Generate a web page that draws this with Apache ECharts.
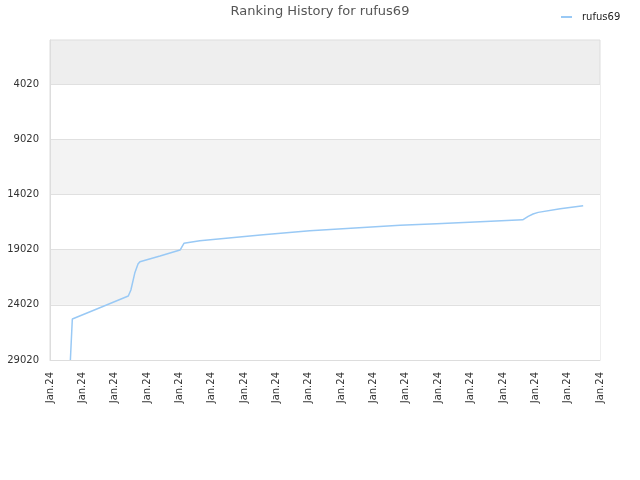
<!DOCTYPE html>
<html>
<head>
<meta charset="utf-8">
<script src="https://cdn.jsdelivr.net/npm/echarts@6/dist/echarts.min.js"></script>
<style>html,body{margin:0;padding:0;background:#fff;}#c{width:640px;height:480px;}</style>
</head>
<body>
<div id="c"></div>
<script>
// Data
var chartTitle = 'Ranking History for rufus69';
var seriesName = 'rufus69';
var xTickLabels = ['Jan.24','Jan.24','Jan.24','Jan.24','Jan.24','Jan.24','Jan.24','Jan.24','Jan.24',
                   'Jan.24','Jan.24','Jan.24','Jan.24','Jan.24','Jan.24','Jan.24','Jan.24','Jan.24'];
var yTickValues = [4020, 9020, 14020, 19020, 24020, 29020];
// time position (in axis tick units) and rank
var timePos = [0.63, 0.69, 1.54, 2.42, 2.50, 2.62, 2.72, 2.78, 3.40, 4.02, 4.14, 4.63, 6.59, 8.03, 10.82, 11.95, 13.13, 14.61, 14.78, 14.93, 15.09, 15.77, 16.48];
var rankValues = [29020, 25306, 24280, 23223, 22679, 21140, 20324, 20116, 19600, 19056, 18449, 18214, 17670, 17308, 16819, 16674, 16520, 16312, 16000, 15790, 15641, 15317, 15048];

var seriesData = timePos.map(function (t, i) { return [t, rankValues[i]]; });

var chart = echarts.init(document.getElementById('c'), null, {renderer: 'canvas'});
chart.setOption({
  animation: false,
  textStyle: {fontFamily: 'DejaVu Sans'},
  title: {
    text: chartTitle,
    left: 'center',
    top: 0,
    textStyle: {fontFamily: 'DejaVu Sans', fontSize: 13, fontWeight: 'normal', color: '#555555'}
  },
  legend: {
    data: [seriesName],
    left: 556,
    top: 7,
    icon: 'rect',
    itemWidth: 11,
    itemHeight: 2,
    textStyle: {fontFamily: 'DejaVu Sans', fontSize: 10, color: '#222222', padding: [0, 0, 0, 5]}
  },
  grid: {
    left: 50, right: 40, top: 40, bottom: 120,
    show: true,
    backgroundColor: '#eeeeee',
    borderColor: '#dddddd',
    borderWidth: 1,
    containLabel: false
  },
  xAxis: {
    type: 'value',
    min: 0,
    max: xTickLabels.length - 1,
    interval: 1,
    axisLine: {show: true, lineStyle: {color: '#dddddd'}},
    axisTick: {show: false},
    splitLine: {show: false},
    axisLabel: {
      rotate: 90,
      margin: 12,
      fontFamily: 'DejaVu Sans',
      fontSize: 10,
      color: '#333333',
      formatter: function (v) { return xTickLabels[Math.round(v)] || ''; }
    }
  },
  yAxis: {
    type: 'value',
    inverse: true,
    min: 20,
    max: 29020,
    axisLine: {show: true, lineStyle: {color: '#dddddd'}},
    axisTick: {show: false, customValues: yTickValues},
    axisLabel: {
      customValues: yTickValues,
      margin: 11,
      fontFamily: 'DejaVu Sans',
      fontSize: 10,
      color: '#333333',
      formatter: function (v) { return String(v); }
    },
    splitLine: {show: true, lineStyle: {color: '#e0e0e0', width: 1}},
    splitArea: {show: true, areaStyle: {color: ['#ffffff', '#f3f3f3']}}
  },
  series: [{
    name: seriesName,
    type: 'line',
    data: seriesData,
    showSymbol: false,
    symbol: 'none',
    lineStyle: {color: '#99c9f5', width: 1.5},
    itemStyle: {color: '#99c9f5'}
  }]
});
</script>
</body>
</html>
